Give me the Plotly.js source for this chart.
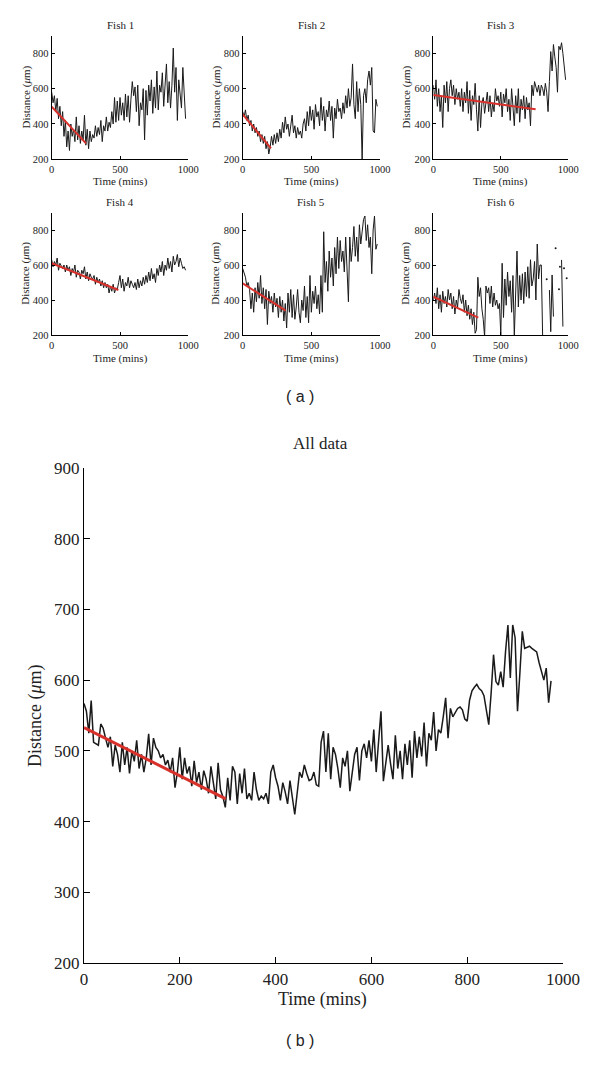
<!DOCTYPE html>
<html><head><meta charset="utf-8">
<script src="https://cdn.plot.ly/plotly-3.0.1.min.js"></script>
<style>html,body{margin:0;padding:0;background:#fff;}#chart{width:600px;height:1070px;}</style>
</head><body><div id="chart"></div>
<script>
// ---- Data (distance in µm, sampled every 10 min for fish panels, 5 min for pooled data) ----
const fishNames = ["Fish 1","Fish 2","Fish 3","Fish 4","Fish 5","Fish 6"];
const fish1 = [580,520,560,470,545,430,500,390,470,330, 420,270,360,250,400,330,370,300,440,310,
  390,290,360,310,450,280,370,260,360,300, 340,320,390,330,380,340,420,300,390,360,
  440,360,410,380,470,400,550,410,530,420, 550,450,520,420,570,440,560,410,540,640,
  560,610,470,620,390,520,480,600,310,590, 450,620,530,650,460,610,490,700,480,620,
  580,690,500,610,740,520,640,490,620,830, 580,720,420,650,560,490,720,580,430];
const fish2 = [470,440,480,420,450,390,420,360,400,350, 380,330,360,300,340,290,330,260,300,230,
  270,330,280,340,290,350,300,370,320,410, 350,440,370,400,330,380,450,350,390,320,
  380,340,360,320,400,430,360,470,390,500, 420,480,370,510,440,470,390,550,420,500,
  360,480,440,530,420,500,320,490,430,540, 470,490,430,520,460,560,490,600,500,550,
  740,510,430,640,470,600,510,190,560,600, 520,650,700,620,720,360,350,540,500];
const fish3 = [620,540,650,500,600,470,560,380,620,520, 640,470,600,650,560,620,510,600,540,580,
  500,600,470,580,520,640,460,590,420,560, 510,630,480,360,560,380,520,550,460,520,
  580,470,560,440,520,470,600,530,560,500, 580,440,570,520,600,470,540,420,600,500,
  390,560,460,600,410,540,480,560,430,550, 480,520,390,620,560,640,600,580,620,560,
  620,600,560,630,580,470,640,810,700,850, 780,720,580,840,820,860,800,700,650];
const fish4 = [630,590,620,600,640,570,610,590,580,600, 560,600,570,590,540,580,560,600,530,570,
  560,520,570,550,590,520,560,510,550,530, 520,540,490,530,500,520,480,510,470,500,
  470,490,440,480,450,490,440,470,460,500, 540,470,520,450,500,480,530,470,510,490,
  470,500,460,520,470,510,480,530,490,540, 500,560,510,580,520,550,500,580,540,600,
  560,620,540,600,570,640,580,620,560,650, 600,620,660,590,640,610,580,590,570];
const fish5 = [580,560,530,480,500,460,350,440,330,470, 390,500,410,540,380,470,350,460,260,450,
  380,420,330,440,360,410,300,420,330,400, 280,380,240,440,330,460,300,430,290,360,
  460,330,270,400,340,480,300,420,270,540, 330,450,380,480,350,430,320,540,330,790,
  500,620,450,680,530,640,480,700,550,760, 580,740,620,680,560,760,600,390,760,620,
  700,820,650,760,620,830,720,800,860,880, 740,830,700,760,550,800,880,690,720];
const fish6 = [400,440,380,470,350,430,330,450,380,420, 360,460,400,440,350,420,320,400,360,460,
  410,380,430,330,400,310,370,290,350,260, 330,210,230,530,420,470,350,290,190,480,
  440,470,380,480,360,440,370,400,350,380, 200,610,300,520,370,560,420,510,330,540,
  190,450,680,360,540,400,550,380,560,420, 590,410,630,480,520,620,400,720,520,600,
  600,190,null,null,null,null,457,219,543,305, null,null,null,null,null,629,248,null,null];
const fish6DotTime = [840, 906, 931, 938, 968, 988];
const fish6DotDist = [518, 695, 461, 590, 581, 524];
const fishFitTime = [[0,251],[0,206],[0,758],[0,488],[0,313],[0,333]];
const fishFitDist = [[498,290],[455,262],[564,483],[610,457],[495,339],[419,299]];

const allData = [567,556,525,571,512,510,508,538,532,518, 505,520,478,508,495,470,512,480,505,468,
  500,485,515,475,495,470,490,524,480,518, 505,500,490,495,480,487,470,490,448,470,
  505,460,490,468,478,450,486,455,470,445, 472,460,440,478,455,432,483,445,435,420,
  462,430,478,470,425,468,440,475,432,440, 430,470,445,430,436,432,440,425,470,480,
  462,450,430,455,442,425,458,436,410,440, 470,462,480,468,458,460,470,452,450,512,
  528,470,525,460,505,495,475,448,490,478, 500,443,470,495,505,458,500,510,490,515,
  485,530,470,510,556,457,485,508,482,460, 522,475,500,460,510,480,515,462,528,490,
  520,492,540,478,525,515,555,500,530,525, 548,575,518,560,548,555,560,562,558,545,
  542,572,585,590,594,588,585,578,560,537, 582,636,598,593,612,590,640,678,603,678,
  660,556,610,669,645,646,648,645,643,640, 625,613,600,617,568,599];
const allFitTime = [0, 296];
const allFitDist = [533, 432];

const smallXTicks = [0, 500, 1000];
const smallYTicks = [200, 400, 600, 800];
const bigXTicks = [0, 200, 400, 600, 800, 1000];
const bigYTicks = [200, 300, 400, 500, 600, 700, 800, 900];

// ---- Layout geometry ----
const W = 600, H = 1070;
const SERIF = "Liberation Serif";
const colPx = [[51.7,188.3],[242.7,380],[433.3,568.3]];
const rowPx = [[35.7,159.3],[212.5,335]];
const px2x = p => p / W;
const py2y = p => 1 - p / H;

const fishSeries = [fish1, fish2, fish3, fish4, fish5, fish6];
const traces = [];
const layout = {
  width: W, height: H, margin: {l:0,r:0,t:0,b:0},
  paper_bgcolor: "#fff", plot_bgcolor: "#fff", showlegend: false,
  font: {family: SERIF, color: "#222"},
  annotations: []
};

function smallAxis(isX, dom, anchor) {
  return {
    domain: dom, anchor: anchor,
    range: isX ? [0, 1000] : [200, 900],
    tickmode: "array", tickvals: isX ? smallXTicks : smallYTicks,
    ticks: "inside", ticklen: 3, tickcolor: "#000", tickwidth: 1,
    showline: true, linecolor: "#000", linewidth: 1,
    showgrid: false, zeroline: false, fixedrange: true,
    tickfont: {family: SERIF, size: 10.5, color: "#222"}
  };
}

fishSeries.forEach((s, i) => {
  const n = i + 1;
  const col = i % 3, row = Math.floor(i / 3);
  const xa = "x" + n, ya = "y" + n;
  const xd = [px2x(colPx[col][0]), px2x(colPx[col][1])];
  const yd = [py2y(rowPx[row][1]), py2y(rowPx[row][0])];
  layout["xaxis" + n] = smallAxis(true, xd, ya);
  layout["yaxis" + n] = smallAxis(false, yd, xa);
  traces.push({type: "scatter", mode: "lines", name: fishNames[i], x0: 0, dx: 10, y: s,
    xaxis: xa, yaxis: ya, connectgaps: false, line: {color: "#1a1a1a", width: 1}});
  if (i === 5) {
    traces.push({type: "scatter", mode: "markers", name: "Fish 6 isolated", x: fish6DotTime, y: fish6DotDist,
      xaxis: xa, yaxis: ya, marker: {color: "#1a1a1a", size: 2}});
  }
  traces.push({type: "scatter", mode: "lines", name: fishNames[i] + " fit", x: fishFitTime[i], y: fishFitDist[i],
    xaxis: xa, yaxis: ya, line: {color: "#d8312c", width: 2}});
  const cx = (colPx[col][0] + colPx[col][1]) / 2;
  const titleY = row === 0 ? 25 : 202;
  const xtY = row === 0 ? 181 : 358;
  const ytX = [26, 216, 406][col];
  const ytY = (rowPx[row][0] + rowPx[row][1]) / 2;
  layout.annotations.push({text: fishNames[i], xref: "paper", yref: "paper", x: px2x(cx), y: py2y(titleY),
    xanchor: "center", yanchor: "middle", showarrow: false, font: {family: SERIF, size: 11, color: "#222"}});
  layout.annotations.push({text: "Time (mins)", xref: "paper", yref: "paper", x: px2x(cx), y: py2y(xtY),
    xanchor: "center", yanchor: "middle", showarrow: false, font: {family: SERIF, size: 11, color: "#222"}});
  layout.annotations.push({text: "Distance (<i>μ</i>m)", xref: "paper", yref: "paper", x: px2x(ytX), y: py2y(ytY),
    xanchor: "center", yanchor: "middle", textangle: -90, showarrow: false, font: {family: SERIF, size: 11, color: "#222"}});
});

// Big panel
layout.xaxis7 = {
  domain: [px2x(84), px2x(563)], anchor: "y7", range: [0, 1000],
  tickmode: "array", tickvals: bigXTicks,
  ticks: "inside", ticklen: 6, tickcolor: "#000", tickwidth: 1,
  showline: true, linecolor: "#000", linewidth: 1.2, showgrid: false, zeroline: false, fixedrange: true,
  tickfont: {family: SERIF, size: 17, color: "#222"}
};
layout.yaxis7 = {
  domain: [py2y(963), py2y(468)], anchor: "x7", range: [200, 900],
  tickmode: "array", tickvals: bigYTicks,
  ticks: "inside", ticklen: 6, tickcolor: "#000", tickwidth: 1,
  showline: true, linecolor: "#000", linewidth: 1.2, showgrid: false, zeroline: false, fixedrange: true,
  tickfont: {family: SERIF, size: 17, color: "#222"}
};
traces.push({type: "scatter", mode: "lines", name: "All data", x0: 0, dx: 5, y: allData,
  xaxis: "x7", yaxis: "y7", line: {color: "#1a1a1a", width: 1.5}});
traces.push({type: "scatter", mode: "lines", name: "All data fit", x: allFitTime, y: allFitDist,
  xaxis: "x7", yaxis: "y7", line: {color: "#d8312c", width: 3}});

layout.annotations.push({text: "All data", xref: "paper", yref: "paper", x: px2x(320), y: py2y(443),
  xanchor: "center", yanchor: "middle", showarrow: false, font: {family: SERIF, size: 17, color: "#222"}});
layout.annotations.push({text: "Time (mins)", xref: "paper", yref: "paper", x: px2x(322), y: py2y(999),
  xanchor: "center", yanchor: "middle", showarrow: false, font: {family: SERIF, size: 18, color: "#222"}});
layout.annotations.push({text: "Distance (<i>μ</i>m)", xref: "paper", yref: "paper", x: px2x(35), y: py2y(716),
  xanchor: "center", yanchor: "middle", textangle: -90, showarrow: false, font: {family: SERIF, size: 18, color: "#222"}});
layout.annotations.push({text: "( a )", xref: "paper", yref: "paper", x: px2x(300), y: py2y(396),
  xanchor: "center", yanchor: "middle", showarrow: false, font: {family: "Liberation Sans", size: 16, color: "#222"}});
layout.annotations.push({text: "( b )", xref: "paper", yref: "paper", x: px2x(300), y: py2y(1040),
  xanchor: "center", yanchor: "middle", showarrow: false, font: {family: "Liberation Sans", size: 16, color: "#222"}});

Plotly.newPlot("chart", traces, layout, {displayModeBar: false, staticPlot: true});
</script>
</body></html>
